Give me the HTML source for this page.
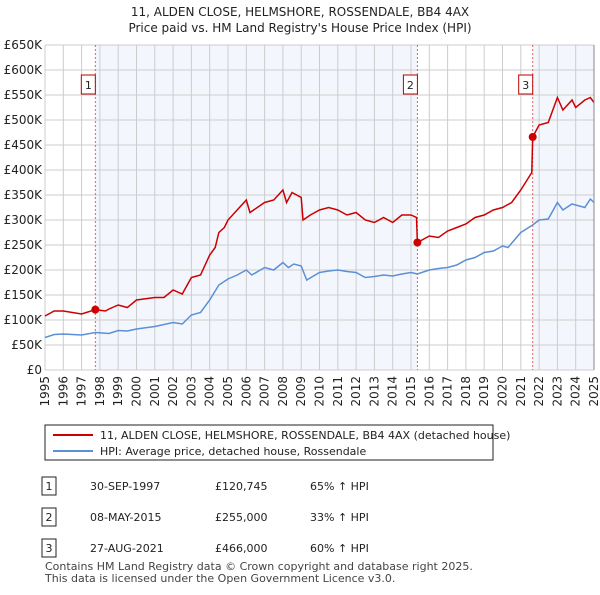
<!DOCTYPE html>
<html><head><meta charset="utf-8"><style>
body{margin:0;background:#fff;font-family:"Liberation Sans","DejaVu Sans",sans-serif;}
svg text{font-family:"DejaVu Sans","Liberation Sans",sans-serif;}
</style></head><body>
<svg id="c" width="600" height="590" xmlns="http://www.w3.org/2000/svg">
<text x="300" y="16" text-anchor="middle" font-size="12" fill="#222">11, ALDEN CLOSE, HELMSHORE, ROSSENDALE, BB4 4AX</text>
<text x="300" y="32" text-anchor="middle" font-size="12" fill="#222">Price paid vs. HM Land Registry's House Price Index (HPI)</text>
<g id="plot"></g>
<rect x="45" y="425" width="448" height="35" fill="#fff" stroke="#222"/>
<line x1="53" y1="435" x2="93" y2="435" stroke="#cc0000" stroke-width="2"/>
<text x="100" y="439" font-size="11" fill="#222">11, ALDEN CLOSE, HELMSHORE, ROSSENDALE, BB4 4AX (detached house)</text>
<line x1="53" y1="451" x2="93" y2="451" stroke="#5b8fd6" stroke-width="2"/>
<text x="100" y="455" font-size="11" fill="#222">HPI: Average price, detached house, Rossendale</text>
<g id="tbl" font-size="11" fill="#222"></g>
<text x="45" y="570" font-size="11" fill="#444">Contains HM Land Registry data © Crown copyright and database right 2025.</text>
<text x="45" y="582" font-size="11" fill="#444">This data is licensed under the Open Government Licence v3.0.</text>
</svg>
<script>
const hpiYears=[1995,1995.5,1996,1997,1997.75,1998.5,1999,1999.5,2000,2001,2002,2002.5,2003,2003.5,2004,2004.5,2005,2005.5,2006,2006.3,2007,2007.5,2008,2008.3,2008.6,2009,2009.3,2010,2010.5,2011,2011.5,2012,2012.5,2013,2013.5,2014,2014.5,2015,2015.35,2016,2016.5,2017,2017.5,2018,2018.5,2019,2019.5,2020,2020.3,2021,2021.65,2022,2022.5,2023,2023.3,2023.8,2024,2024.5,2024.8,2025];
const hpiValues=[65,71,72,70,75,73,79,78,82,87,95,92,110,115,140,170,182,190,200,190,205,200,215,205,212,208,180,195,198,200,197,195,185,187,190,188,192,195,192,200,203,205,210,220,225,235,238,248,245,275,290,300,302,335,320,332,330,325,342,335];
const redYears=[1995,1995.5,1996,1997,1997.75,1998.3,1998.5,1999,1999.5,2000,2001,2001.5,2002,2002.5,2003,2003.5,2004,2004.3,2004.5,2004.8,2005,2005.5,2006,2006.2,2007,2007.5,2008,2008.2,2008.5,2009,2009.1,2009.5,2010,2010.5,2011,2011.5,2012,2012.5,2013,2013.5,2014,2014.5,2015,2015.3,2015.35,2016,2016.5,2017,2017.5,2018,2018.5,2019,2019.5,2020,2020.5,2021,2021.6,2021.65,2022,2022.5,2023,2023.3,2023.8,2024,2024.5,2024.8,2025];
const redValues=[108,118,118,112,120.7,118,122,130,125,140,145,145,160,152,185,190,230,245,275,285,300,320,340,315,335,340,360,335,355,345,300,310,320,325,320,310,315,300,295,305,295,310,310,305,255,268,265,278,285,292,305,310,320,325,335,360,395,466,490,495,545,520,540,525,540,545,535];
const saleYears=[1997.75,2015.35,2021.65];
const saleValues=[120.745,255,466];
const saleLabels=["1","2","3"];
const saleDates=["30-SEP-1997","08-MAY-2015","27-AUG-2021"];
const salePrices=["£120,745","£255,000","£466,000"];
const saleHpi=["65% ↑ HPI","33% ↑ HPI","60% ↑ HPI"];
const yTicks=[0,50,100,150,200,250,300,350,400,450,500,550,600,650];
const yTickLabels=["£0","£50K","£100K","£150K","£200K","£250K","£300K","£350K","£400K","£450K","£500K","£550K","£600K","£650K"];
const xTicks=[1995,1996,1997,1998,1999,2000,2001,2002,2003,2004,2005,2006,2007,2008,2009,2010,2011,2012,2013,2014,2015,2016,2017,2018,2019,2020,2021,2022,2023,2024,2025];

const NS="http://www.w3.org/2000/svg";
const X0=45,X1=594,Y0=370,Y1=45;
const xs=y=>X0+(y-1995)/30*(X1-X0);
const ys=v=>Y0-v/650*(Y0-Y1);
const g=document.getElementById('plot');
function mk(t,a,p){const e=document.createElementNS(NS,t);for(const k in a)e.setAttribute(k,a[k]);(p||g).appendChild(e);return e;}
let e;
e=mk('rect',{x:X0,y:Y1,width:X1-X0,height:Y0-Y1,fill:'#fff'});


e=mk('rect',{x:xs(saleYears[0]),y:Y1,width:xs(saleYears[1])-xs(saleYears[0]),height:Y0-Y1,fill:'#eef3fc',opacity:0.7});


e=mk('rect',{x:xs(saleYears[2]),y:Y1,width:X1-xs(saleYears[2]),height:Y0-Y1,fill:'#eef3fc',opacity:0.7});


yTicks.forEach((v,i)=>{
  e=mk('line',{x1:X0,x2:X1,y1:ys(v),y2:ys(v),stroke:'#ccc'});
  
  
  e=mk('text',{x:X0-3,y:ys(v)+4,'text-anchor':'end','font-size':12,fill:'#222'});
  e.textContent=yTickLabels[i];
  
  
});
xTicks.forEach(y=>{
  e=mk('line',{x1:xs(y),x2:xs(y),y1:Y1,y2:Y0,stroke:'#ccc'});
  
  
  e=mk('text',{x:0,y:0,'text-anchor':'end','font-size':12,fill:'#222',transform:`translate(${xs(y)+4},${Y0+6}) rotate(-90)`});
  e.textContent=y;
  
  
});
saleYears.forEach((y,i)=>{
  e=mk('line',{x1:xs(y),x2:xs(y),y1:Y1,y2:Y0,stroke:'#e06060','stroke-dasharray':'2,2'});
  
  
  e=mk('rect',{x:xs(y)-14,y:75,width:14,height:19,fill:'#fff',stroke:'#b00'});
  
  
  e=mk('text',{x:xs(y)-7,y:89,'text-anchor':'middle','font-size':11,fill:'#222'});
  e.textContent=saleLabels[i];
  
  
});
e=mk('polyline',{points:hpiYears.map((y,i)=>xs(y)+','+ys(hpiValues[i])).join(' '),fill:'none',stroke:'#5b8fd6','stroke-width':1.5});


e=mk('polyline',{points:redYears.map((y,i)=>xs(y)+','+ys(redValues[i])).join(' '),fill:'none',stroke:'#cc0000','stroke-width':1.5});


saleYears.forEach((y,i)=>{
  e=mk('circle',{cx:xs(y),cy:ys(saleValues[i]),r:4,fill:'#cc0000'});
  
  
});
e=mk('line',{x1:X1,x2:X1,y1:Y1,y2:Y0,stroke:'#888'});


const t=document.getElementById('tbl');
saleLabels.forEach((l,i)=>{
  const cy=487+i*31;
  e=mk('rect',{x:42,y:cy-10,width:14,height:18,fill:'#fff',stroke:'#222'},t);
  
  
  const cells=[[49,l,'middle'],[90,saleDates[i],'start'],[215,salePrices[i],'start'],[310,saleHpi[i],'start']];
  cells.forEach(c=>{
    e=mk('text',{x:c[0],y:cy+3,'text-anchor':c[2]},t);
    e.textContent=c[1];
    
    
  });
});
</script>
</body></html>
